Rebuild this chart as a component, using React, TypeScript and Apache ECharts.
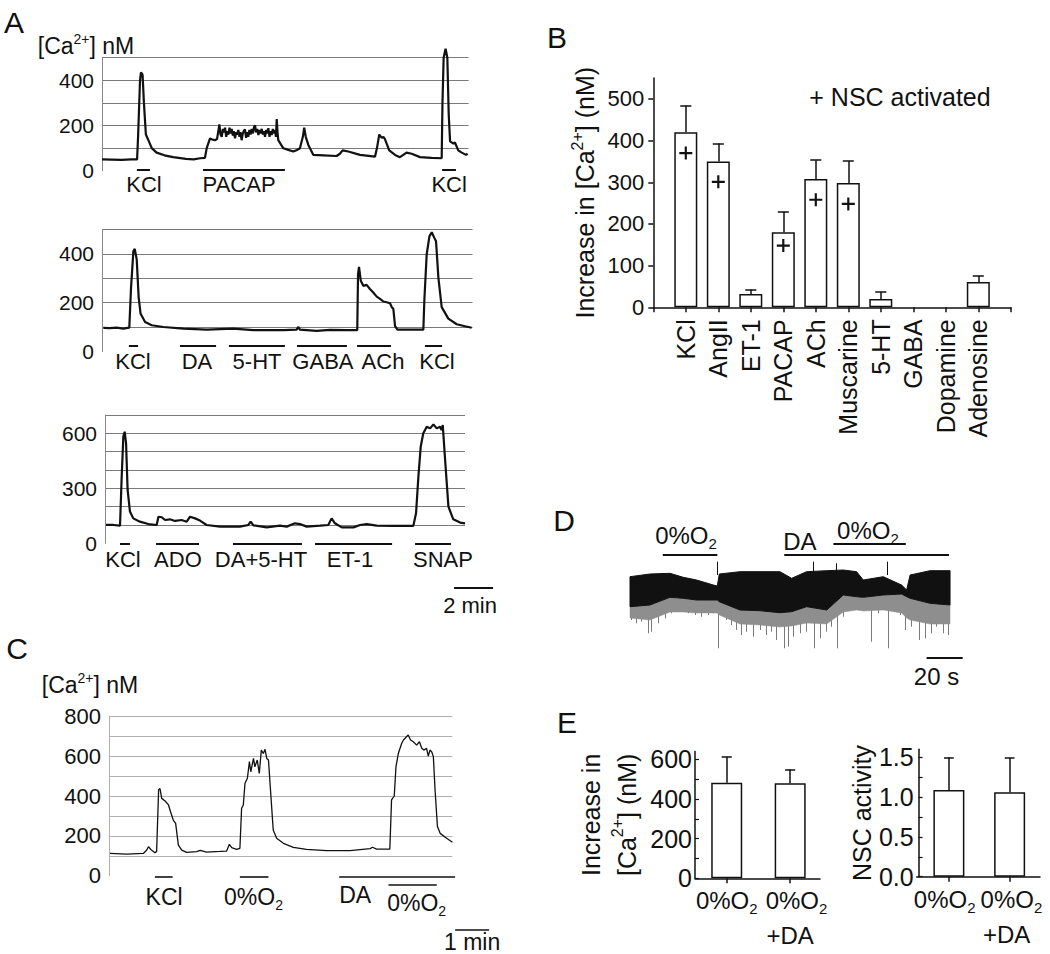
import React, { useEffect, useRef } from 'react';
import * as echarts from 'echarts';

const FONT = "'Liberation Sans', Arial, Helvetica, sans-serif";
const INK = '#111';

// ---------- Panel A (time in min, [Ca2+] in nM) ----------
const a1Trace: [number, number][] = [[0,50],[0.5,49],[1.0,48],[1.5,50],[1.8,50],[1.85,150],[1.95,400],[2.0,435],[2.08,425],[2.15,300],[2.25,160],[2.38,135],[2.55,100],[2.8,80],[3.2,68],[3.65,60],[4.3,52],[4.7,50],[5.03,55],[5.28,57],[5.37,100],[5.54,143],[5.65,138],[5.79,135],[5.9,140],[6.02,205],[6.08,160],[6.14,150],[6.2,185],[6.26,170],[6.31,190],[6.37,150],[6.42,175],[6.48,160],[6.54,190],[6.6,165],[6.65,185],[6.71,155],[6.76,175],[6.82,143],[6.88,170],[6.93,160],[6.99,180],[7.05,150],[7.1,170],[7.16,135],[7.22,165],[7.27,175],[7.33,183],[7.39,145],[7.44,170],[7.5,150],[7.56,180],[7.62,160],[7.68,185],[7.74,165],[7.8,195],[7.85,200],[7.9,170],[7.96,185],[8.02,158],[8.08,180],[8.13,165],[8.19,185],[8.25,160],[8.3,175],[8.36,150],[8.42,180],[8.47,165],[8.53,188],[8.59,150],[8.64,175],[8.7,158],[8.76,185],[8.81,165],[8.87,180],[8.92,150],[8.96,229],[9.0,170],[9.04,135],[9.3,99],[9.55,92],[9.81,85],[10.0,92],[10.15,99],[10.3,150],[10.37,190],[10.45,150],[10.58,114],[10.84,70],[11.35,68],[12.03,65],[12.2,75],[12.34,90],[12.63,85],[13.23,70],[14.0,62],[14.1,100],[14.22,160],[14.35,145],[14.43,150],[14.51,140],[14.73,90],[15.03,70],[15.28,60],[15.45,70],[15.62,80],[15.88,75],[16.31,60],[16.9,57],[17.42,55],[17.46,300],[17.52,500],[17.62,540],[17.71,500],[17.78,250],[17.85,130],[18.02,120],[18.1,125],[18.27,90],[18.45,80],[18.67,70],[18.75,75]];
const a2Trace: [number, number][] = [[0.07,97],[0.4,96],[0.75,98],[1.09,94],[1.4,98],[1.49,263],[1.61,411],[1.68,420],[1.78,377],[1.88,222],[1.98,155],[2.21,121],[2.55,108],[3.15,101],[4.17,94],[5.37,90],[6.73,94],[7.76,88],[9.3,88],[9.98,90],[10.07,101],[10.15,90],[11.01,85],[11.69,89],[12.55,88],[13.09,88],[13.13,317],[13.18,346],[13.27,290],[13.4,269],[13.57,273],[13.74,256],[13.91,242],[14.09,225],[14.26,216],[14.43,205],[14.6,202],[14.77,198],[14.86,182],[14.94,175],[15.03,104],[15.15,90],[15.79,90],[16.48,90],[16.53,209],[16.65,397],[16.79,471],[16.91,488],[17.03,467],[17.13,451],[17.25,303],[17.42,182],[17.76,135],[18.19,112],[18.62,104],[18.96,98]];
const a3Trace: [number, number][] = [[0.05,100],[0.43,100],[0.77,96],[0.85,345],[0.94,582],[1.01,609],[1.08,545],[1.16,291],[1.28,173],[1.45,136],[1.79,118],[2.22,105],[2.65,100],[2.74,145],[2.91,142],[3.08,127],[3.33,131],[3.59,122],[3.93,127],[4.19,118],[4.36,145],[4.62,136],[4.87,124],[5.21,100],[5.9,91],[6.92,91],[7.35,100],[7.47,118],[7.61,98],[8.29,87],[8.97,96],[9.32,91],[9.74,109],[10.0,105],[10.34,91],[11.03,96],[11.45,100],[11.62,136],[11.79,109],[12.14,87],[12.74,87],[13.08,100],[13.42,105],[13.93,96],[14.79,95],[15.81,95],[15.95,164],[16.07,364],[16.19,527],[16.32,600],[16.5,636],[16.67,627],[16.84,649],[17.01,627],[17.18,636],[17.26,618],[17.32,645],[17.44,455],[17.61,200],[17.86,131],[18.21,113],[18.46,109]];

const a1Stim: [number, number][] = [[1.79,2.46],[5.18,9.38],[17.44,18.15]];
const a1StimLevel = 6;
const a1Labels = ['KCl','PACAP','KCl'];
const a1LabelTime = [2.15,7.03,17.8];
const a1LabelLevel = -59;

const a2Stim: [number, number][] = [[1.38,1.85],[4.0,5.85],[6.51,9.38],[10.0,12.56],[13.08,14.82],[16.56,17.44]];
const a2StimLevel = 25;
const a2Labels = ['KCl','DA','5-HT','GABA','ACh','KCl'];
const a2LabelTime = [1.59,4.87,7.95,11.33,14.41,17.18];
const a2LabelLevel = -42;

const a3Stim: [number, number][] = [[0.77,1.28],[2.62,4.82],[6.56,10.1],[10.77,14.72],[15.9,17.74]];
const a3StimLevel = -5;
const a3Labels = ['KCl','ADO','DA+5-HT','ET-1','SNAP'];
const a3LabelTime = [0.92,3.74,8.0,12.56,17.33];
const a3LabelLevel = -91;
const aScaleBar: [number, number] = [17.9, 19.9]; // 2 min
const aScaleLevel = -244;
const aScaleTextLevel = -337;

const a1Ticks = [0,200,400];
const a2Ticks = [0,200,400];
const a3Ticks = [0,300,600];

// ---------- Panel C ----------
const cTrace: [number, number][] = [[0.03,112],[0.52,109],[1.01,112],[1.11,129],[1.16,146],[1.23,132],[1.35,116],[1.40,121],[1.46,434],[1.50,438],[1.55,389],[1.65,376],[1.75,356],[1.81,322],[1.89,280],[1.96,263],[2.04,154],[2.14,129],[2.28,117],[2.58,121],[2.68,127],[2.87,119],[3.26,122],[3.46,124],[3.54,158],[3.61,141],[3.75,132],[3.85,138],[3.90,339],[3.95,356],[4.00,465],[4.07,490],[4.13,574],[4.17,523],[4.25,590],[4.29,548],[4.36,582],[4.42,515],[4.48,632],[4.54,615],[4.59,636],[4.64,590],[4.69,582],[4.75,431],[4.83,230],[4.93,188],[5.13,163],[5.42,143],[5.81,132],[6.40,126],[7.09,126],[7.68,136],[7.75,143],[7.87,134],[8.26,134],[8.31,381],[8.39,401],[8.44,548],[8.51,615],[8.56,641],[8.61,666],[8.66,683],[8.75,699],[8.80,708],[8.87,683],[8.95,674],[9.05,657],[9.13,674],[9.20,641],[9.26,632],[9.34,641],[9.39,602],[9.44,632],[9.49,624],[9.54,599],[9.59,431],[9.66,247],[9.74,213],[9.93,188],[10.10,168]];
const cStim: [number, number, number][] = [[1.35,1.87,-7],[3.85,4.69,-7],[6.77,10.18,-7],[8.22,9.64,-47]];
const cLabels = ['KCl','0%O{sub|2}','DA','0%O{sub|2}'];
const cLabelTime = [1.62,4.25,7.24,9.05];
const cLabelLevel = [-105,-105,-97,-137];
const cScaleBar: [number, number] = [10.18, 11.18]; // 1 min
const cScaleLevel = -273;
const cScaleTextLevel = -335;
const cTicks = [0,200,400,600,800];

// ---------- Panel B ----------
const bCategories = ['KCl','AngII','ET-1','PACAP','ACh','Muscarine','5-HT','GABA','Dopamine','Adenosine'];
const bMean = [420,350,32,180,308,298,20,0,0,61];
const bErrTop = [484,393,43,229,353,351,37,0,0,75];
const bNscIndex = [1,2,4,5,6];
const bNscValue = [370,301,148,258,248];
const bTicks = [0,100,200,300,400,500];

// ---------- Panel D (time in s, current in arbitrary units) ----------
const dTime = [0,11.1,22.2,29.6,37.0,46.3,48.5,49.6,61.1,72.2,83.3,89.8,98.1,109.3,118.5,125.9,129.6,140.7,150.9,153.7,155.6,166.7,177.8];
const dUpper = [83.3,86,86.7,82.7,80,75,74,86,88.3,88.3,88.3,81.7,88.3,89.3,90,88.3,80,83.3,75,70,85,89.3,89.3];
const dLower = [53.3,55,62.7,61.7,60,60,60,58.3,50,49.3,47.3,48.3,53.3,50,65,63.3,62.7,65,66,63.3,61.7,56.7,55];
const dFringe = [42,40,48,48,47,47,47,45,36,35,33,34,37,36,48,50,49,50,47,42,40,36,36];
const dSpikeTime = [0.9,3.7,6.5,10.2,12.0,15.7,19.4,23.1,26.9,29.3,32.4,36.1,39.8,43.5,46.3,49.1,50.9,53.7,56.5,59.3,62.0,64.8,68.5,72.2,75.9,78.7,81.5,85.7,88.0,90.7,94.4,98.1,102.4,105.6,109.3,112.0,115.2,118.5,122.2,125.9,129.6,134.3,138.0,140.7,143.5,146.3,150.0,152.8,156.5,160.7,163.9,167.6,170.4,174.1,176.9];
const dSpikeTip = [40,36.7,38.3,26.7,28.3,36.7,41.7,46.7,50,48.3,46.7,45,43.3,45,46.7,11.7,50,40,35,30,25,28.3,23.3,30,25,28.3,20,11.7,13.3,23.3,26.7,28.3,11.7,21.7,28.3,33.3,11.7,43.3,50,53.3,50,18.3,46.7,53.3,11.7,50,45,30,33.3,20,21.7,26.7,33.3,26.7,25];
const dUpSpikeTime = [48.5,101.9,114.8,143.0];
const dUpSpikeTip = [98.3,98.3,96.7,98.3];
const dStim: [number, number, number][] = [[18.2,48.5,105],[85.7,177.2,105],[113,153.2,116.7]];
const dLabels = ['0%O{sub|2}','DA','0%O{sub|2}'];
const dLabelTime = [31.1,94.4,132.2];
const dLabelLevel = [125,118.3,130];
const dScaleBar: [number, number] = [164.8, 184.8]; // 20 s
const dScaleLevel = 2.3;
const dScaleTextLevel = -16.7;

// ---------- Panel E ----------
const eGroupPos = [0.5, 1.5];
const eLabelText = ['0%O{sub|2}', '0%O{sub|2}', '+DA'];
const eCaLabelPos = [0.5, 1.6, 1.5];
const eNscLabelPos = [0.43, 1.53, 1.45];
const eCaLabelLevel = [-112, -112, -288];
const eNscLabelLevel = [-0.285, -0.285, -0.725];
const eCaMean = [482,480];
const eCaErr = [613,549];
const eNscMean = [1.09,1.06];
const eNscErr = [1.50,1.49];

function rich(size: number) {
  const s = Math.round(size * 0.62);
  return {
    sub: { fontSize: s, fontFamily: FONT, color: INK, verticalAlign: 'bottom', lineHeight: s },
    sup: { fontSize: s, fontFamily: FONT, color: INK, verticalAlign: 'top', lineHeight: s },
  };
}

function hiddenX(gi: number, min: number, max: number) {
  return { type: 'value', gridIndex: gi, min, max, show: false };
}

function traceY(gi: number, max: number, labels: number[], size: number, gridColor: string, axisColor: string) {
  return {
    type: 'value', gridIndex: gi, min: 0, max, interval: 100,
    axisLine: { show: true, lineStyle: { color: axisColor, width: 1 } },
    axisTick: { show: false },
    axisLabel: { customValues: labels, fontSize: size, color: INK, fontFamily: FONT, margin: 8 },
    splitLine: { show: true, showMinLine: false, lineStyle: { color: gridColor, width: 1 } },
  };
}

function traceSeries(gi: number, data: [number, number][], width: number) {
  return {
    type: 'line', xAxisIndex: gi, yAxisIndex: gi, data, showSymbol: false, symbol: 'none', clip: false,
    lineStyle: { color: INK, width }, silent: true, z: 3,
  };
}

function segSeries(gi: number, segs: number[][], width: number, color = INK, z = 4) {
  return {
    type: 'lines', coordinateSystem: 'cartesian2d', xAxisIndex: gi, yAxisIndex: gi, clip: false, silent: true,
    lineStyle: { color, width, opacity: 1 }, z,
    data: segs.map((s) => ({ coords: [[s[0], s[1]], [s[2], s[3]]] })),
  };
}

function labelSeries(gi: number, texts: string[], xs: number[], ys: number[], size: number) {
  return {
    type: 'scatter', xAxisIndex: gi, yAxisIndex: gi, clip: false, silent: true, symbolSize: 1,
    itemStyle: { color: 'rgba(0,0,0,0)', opacity: 1 }, z: 6,
    data: texts.map((t, i) => ({ value: [xs[i], ys[i]], name: t })),
    label: {
      show: true, position: 'inside', formatter: (p: any) => p.name, fontSize: size, fontFamily: FONT,
      color: INK, opacity: 1, lineHeight: Math.round(size * 1.3), rich: rich(size),
    },
    labelLayout: { hideOverlap: false },
  };
}

function buildOption() {
  const grids = [
    { left: 102, top: 57.7, width: 366.6, height: 113 },   // A1
    { left: 102, top: 229.3, width: 370.5, height: 122.4 }, // A2
    { left: 105, top: 415, width: 360, height: 128.3 },     // A3
    { left: 109, top: 716.7, width: 343.4, height: 159 },   // C
    { left: 653.3, top: 78.1, width: 357.5, height: 229.2 },// B
    { left: 630, top: 500, width: 320.4, height: 160 },     // D
    { left: 695, top: 751.4, width: 125, height: 126.9 },   // E1
    { left: 916.7, top: 749.3, width: 123.3, height: 127.4 }, // E2
  ].map((g) => ({ ...g, outerBoundsMode: 'none', containLabel: false }));

  const eXAxis = (gi: number, min: number, max: number) => ({
    type: 'value', gridIndex: gi, min, max,
    axisLine: { show: true, lineStyle: { color: INK, width: 1.5 } },
    axisTick: { show: true, length: 5, customValues: eGroupPos, lineStyle: { color: INK, width: 1.5 } },
    splitLine: { show: false },
    axisLabel: { show: false },
  });

  const xAxis: any[] = [
    hiddenX(0, 0, 18.8),
    hiddenX(1, 0, 19.0),
    hiddenX(2, 0, 18.46),
    hiddenX(3, 0, 10.1),
    {
      type: 'value', gridIndex: 4, min: 0, max: 11, interval: 1,
      axisLine: { show: true, lineStyle: { color: INK, width: 1.5 } },
      axisTick: { show: true, length: 5, lineStyle: { color: INK, width: 1.5 } },
      splitLine: { show: false },
      axisLabel: {
        customValues: [1,2,3,4,5,6,7,8,9,10], rotate: 90, margin: 12, fontSize: 25, color: INK, fontFamily: FONT,
        showMinLabel: true, showMaxLabel: true,
        formatter: (v: number) => bCategories[Math.round(v) - 1] ?? '',
      },
    },
    hiddenX(5, 0, 178),
    eXAxis(6, 0, 1.97),
    eXAxis(7, -0.03, 2.0),
  ];

  const yAxis: any[] = [
    traceY(0, 500, a1Ticks, 21, '#7a7a7a', '#888'),
    traceY(1, 500, a2Ticks, 21, '#7a7a7a', '#888'),
    traceY(2, 700, a3Ticks, 21, '#7a7a7a', '#888'),
    traceY(3, 800, cTicks, 22, '#b0b0b0', '#b0b0b0'),
    {
      type: 'value', gridIndex: 4, min: 0, max: 550, interval: 100,
      axisLine: { show: true, lineStyle: { color: INK, width: 1.5 } },
      axisTick: { show: true, length: 5, customValues: bTicks, lineStyle: { color: INK, width: 1.5 } },
      axisLabel: { customValues: bTicks, fontSize: 22, color: INK, fontFamily: FONT, margin: 9 },
      splitLine: { show: false },
      name: 'Increase in [Ca{sup|2+}] (nM)', nameLocation: 'middle', nameGap: 52,
      nameTextStyle: { fontSize: 25, fontFamily: FONT, color: INK, lineHeight: 32, rich: rich(25) },
    },
    { type: 'value', gridIndex: 5, min: 0, max: 160, show: false },
    {
      type: 'value', gridIndex: 6, min: 0, max: 640,
      axisLine: { show: true, lineStyle: { color: INK, width: 1.5 } },
      axisTick: { show: true, inside: true, length: 4, customValues: [0,100,200,300,400,500,600], lineStyle: { color: INK, width: 1.2 } },
      axisLabel: { customValues: [0,200,400,600], fontSize: 25, color: INK, fontFamily: FONT, margin: 3 },
      splitLine: { show: false },
      name: 'Increase in\n[Ca{sup|2+}] (nM)', nameLocation: 'middle', nameGap: 50,
      nameTextStyle: { fontSize: 25, fontFamily: FONT, color: INK, lineHeight: 36, rich: rich(25) },
    },
    {
      type: 'value', gridIndex: 7, min: 0, max: 1.6,
      axisLine: { show: true, lineStyle: { color: INK, width: 1.5 } },
      axisTick: { show: true, inside: true, length: 4, customValues: [0,0.25,0.5,0.75,1,1.25,1.5], lineStyle: { color: INK, width: 1.2 } },
      axisLabel: { customValues: [0,0.5,1,1.5], fontSize: 25, color: INK, fontFamily: FONT, margin: 3, formatter: (v: number) => v.toFixed(1) },
      splitLine: { show: false },
      name: 'NSC activity', nameLocation: 'middle', nameGap: 42,
      nameTextStyle: { fontSize: 25, fontFamily: FONT, color: INK },
    },
  ];

  const series: any[] = [];

  // Panel A
  series.push(traceSeries(0, a1Trace, 2.2));
  series.push(traceSeries(1, a2Trace, 2.2));
  series.push(traceSeries(2, a3Trace, 2.2));
  series.push(segSeries(0, a1Stim.map((s) => [s[0], a1StimLevel, s[1], a1StimLevel]), 2));
  series.push(segSeries(1, a2Stim.map((s) => [s[0], a2StimLevel, s[1], a2StimLevel]), 2));
  series.push(segSeries(2, [...a3Stim.map((s) => [s[0], a3StimLevel, s[1], a3StimLevel]), [aScaleBar[0], aScaleLevel, aScaleBar[1], aScaleLevel]], 2));
  series.push(labelSeries(0, a1Labels, a1LabelTime, a1Labels.map(() => a1LabelLevel), 22));
  series.push(labelSeries(1, a2Labels, a2LabelTime, a2Labels.map(() => a2LabelLevel), 22));
  series.push(labelSeries(2, [...a3Labels, '2 min'], [...a3LabelTime, (aScaleBar[0] + aScaleBar[1]) / 2 - 0.18], [...a3Labels.map(() => a3LabelLevel), aScaleTextLevel], 22));

  // Panel C
  series.push(traceSeries(3, cTrace, 1.3));
  series.push(segSeries(3, [...cStim.map((s) => [s[0], s[2], s[1], s[2]]), [cScaleBar[0], cScaleLevel, cScaleBar[1], cScaleLevel]], 1.6));
  series.push(labelSeries(3, [...cLabels, '1 min'], [...cLabelTime, (cScaleBar[0] + cScaleBar[1]) / 2], [...cLabelLevel, cScaleTextLevel], 23));

  // Panel B
  series.push({
    type: 'bar', xAxisIndex: 4, yAxisIndex: 4, barWidth: 23, silent: true, z: 3,
    data: bMean.map((v, i) => [i + 1, v > 0 ? v : '-']),
    itemStyle: { color: '#fff', borderColor: INK, borderWidth: 1.5 },
  });
  const bSegs: number[][] = [];
  bMean.forEach((v, i) => {
    if (bErrTop[i] > v) {
      bSegs.push([i + 1, v, i + 1, bErrTop[i]]);
      bSegs.push([i + 1 - 0.17, bErrTop[i], i + 1 + 0.17, bErrTop[i]]);
    }
  });
  series.push(segSeries(4, bSegs, 1.5));
  series.push({
    type: 'scatter', xAxisIndex: 4, yAxisIndex: 4, silent: true, z: 5,
    symbol: 'path://M5,0L7,0L7,5L12,5L12,7L7,7L7,12L5,12L5,7L0,7L0,5L5,5Z', symbolSize: 13,
    itemStyle: { color: INK, opacity: 1 },
    data: bNscIndex.map((c, i) => [c, bNscValue[i]]),
  });

  // Panel D: recording band drawn as polygons through the axis scales
  series.push({
    type: 'custom', xAxisIndex: 5, yAxisIndex: 5, silent: true, z: 3, clip: false,
    data: [[0, 0]],
    renderItem: (_params: any, api: any) => {
      const poly = (top: number[], bottom: number[]) => {
        const up = dTime.map((t, i) => api.coord([t, top[i]]));
        const down = dTime.map((t, i) => api.coord([t, bottom[i]])).reverse();
        return [...up, ...down];
      };
      return {
        type: 'group',
        children: [
          { type: 'polygon', shape: { points: poly(dLower, dFringe) }, style: { fill: '#8e8e8e', stroke: '#8e8e8e', lineWidth: 0.5 } },
          { type: 'polygon', shape: { points: poly(dUpper, dLower) }, style: { fill: INK, stroke: INK, lineWidth: 1 } },
        ],
      };
    },
  });
  series.push(segSeries(5, dSpikeTime.map((t, i) => [t, 55, t, dSpikeTip[i]]), 1, '#7a7a7a', 2));
  series.push(segSeries(5, dUpSpikeTime.map((t, i) => [t, 85, t, dUpSpikeTip[i]]), 1, INK, 4));
  series.push(segSeries(5, [...dStim.map((s) => [s[0], s[2], s[1], s[2]]), [dScaleBar[0], dScaleLevel, dScaleBar[1], dScaleLevel]], 1.8));
  series.push(labelSeries(5, [...dLabels, '20 s'], [...dLabelTime, (dScaleBar[0] + dScaleBar[1]) / 2 - 4.5], [...dLabelLevel, dScaleTextLevel], 24));

  // Panel E
  const eBar = (gi: number, mean: number[]) => ({
    type: 'bar', xAxisIndex: gi, yAxisIndex: gi, barWidth: 31, silent: true, z: 3,
    data: mean.map((v, i) => [eGroupPos[i], v]),
    itemStyle: { color: '#fff', borderColor: INK, borderWidth: 1.5 },
  });
  const eSegs = (mean: number[], err: number[]) => {
    const out: number[][] = [];
    mean.forEach((v, i) => {
      const x = eGroupPos[i];
      out.push([x, v, x, err[i]]);
      out.push([x - 0.08, err[i], x + 0.08, err[i]]);
    });
    return out;
  };
  series.push(eBar(6, eCaMean));
  series.push(segSeries(6, eSegs(eCaMean, eCaErr), 1.5));
  series.push(labelSeries(6, eLabelText, eCaLabelPos, eCaLabelLevel, 24));
  series.push(eBar(7, eNscMean));
  series.push(segSeries(7, eSegs(eNscMean, eNscErr), 1.5));
  series.push(labelSeries(7, eLabelText, eNscLabelPos, eNscLabelLevel, 24));

  const letter = (t: string, x: number, y: number) => ({
    type: 'text', x, y, silent: true,
    style: { text: t, fontSize: 30, fontFamily: FONT, fill: INK, align: 'center', verticalAlign: 'middle' },
  });

  const graphic: any[] = [
    letter('A', 14, 22),
    letter('B', 557, 37),
    letter('C', 17, 648),
    letter('D', 564, 520),
    letter('E', 567, 722),
    {
      type: 'text', x: 86, y: 46, silent: true,
      style: { text: '[Ca{sup|2+}] nM', fontSize: 23, fontFamily: FONT, fill: INK, align: 'center', verticalAlign: 'middle', lineHeight: 28, rich: rich(23) },
    },
    {
      type: 'text', x: 90, y: 685, silent: true,
      style: { text: '[Ca{sup|2+}] nM', fontSize: 23, fontFamily: FONT, fill: INK, align: 'center', verticalAlign: 'middle', lineHeight: 28, rich: rich(23) },
    },
    {
      type: 'text', x: 900, y: 97, silent: true,
      style: { text: '+ NSC activated', fontSize: 25, fontFamily: FONT, fill: INK, align: 'center', verticalAlign: 'middle' },
    },
  ];

  return {
    animation: false,
    backgroundColor: '#fff',
    textStyle: { fontFamily: FONT },
    grid: grids,
    xAxis,
    yAxis,
    series,
    graphic,
  };
}

export default function App() {
  const ref = useRef<HTMLDivElement>(null);
  useEffect(() => {
    if (!ref.current) return;
    const chart = echarts.init(ref.current, null, { renderer: 'svg' });
    chart.setOption(buildOption() as any);
    return () => chart.dispose();
  }, []);
  return (
    <div
      ref={ref}
      style={{ position: 'absolute', left: 0, top: 0, width: 1050, height: 954, background: '#fff' }}
    />
  );
}
